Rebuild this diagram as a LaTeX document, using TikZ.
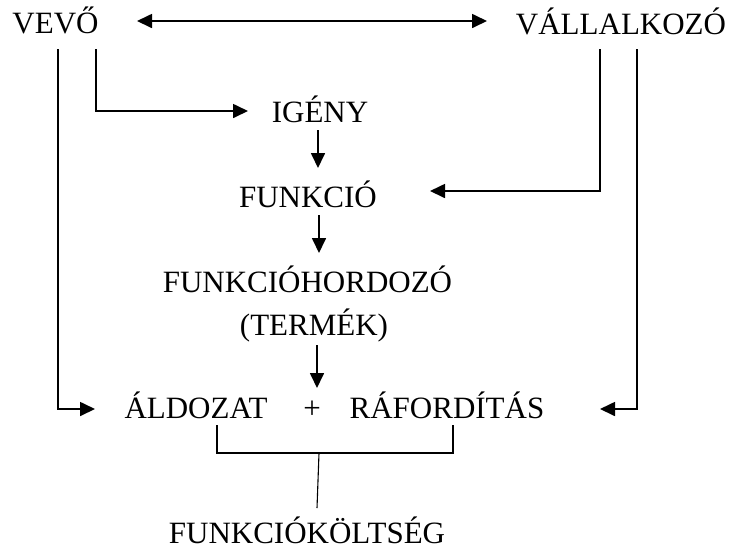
\documentclass[tikz,border=0pt]{standalone}
\usepackage{fontspec}
\setmainfont{Liberation Serif}
\usetikzlibrary{arrows.meta}

\tikzset{
    word/.style={anchor=base, inner sep=0pt, font=\fontsize{31}{43}\selectfont},
    conn/.style={line width=1.7pt},
    >={Triangle[length=15pt,width=14pt]},
}

\begin{document}
\begin{tikzpicture}[x=1pt, y=-1pt]
            \useasboundingbox (0, 0) rectangle (735, 550);

            \node[word] (vevo) at (55.5, 33) {VEVŐ};
            \node[word] (vallalkozo) at (621, 34) {VÁLLALKOZÓ};
            \node[word] (igeny) at (320, 122) {IGÉNY};
            \node[word] (funkcio) at (308, 207) {FUNKCIÓ};
            \node[word] (hordozo) at (307.5, 292) {FUNKCIÓHORDOZÓ};
            \node[word] (termek) at (314, 335) {(TERMÉK)};
            \node[word] (aldozat) at (196, 418) {ÁLDOZAT};
            \node[word] (plusz) at (312, 418) {+};
            \node[word] (raforditas) at (447, 418) {RÁFORDÍTÁS};
            \node[word] (koltseg) at (307, 543) {FUNKCIÓKÖLTSÉG};

%            line ends
            \coordinate (top-l) at (137, 21);
            \coordinate (top-r) at (487, 21);
            \coordinate (vevo-a) at (58, 49);
            \coordinate (vevo-b) at (96, 49);
            \coordinate (igeny-in) at (248, 111);
            \coordinate (aldozat-in) at (95, 409);
            \coordinate (vall-a) at (600, 49);
            \coordinate (vall-b) at (637, 49);
            \coordinate (funkcio-in) at (430, 191);
            \coordinate (rafor-in) at (600, 409);
            \coordinate (igeny-out) at (318, 130);
            \coordinate (funkcio-top) at (318, 168);
            \coordinate (funkcio-out) at (319, 215);
            \coordinate (hordozo-top) at (319, 253);
            \coordinate (termek-out) at (317, 345);
            \coordinate (aldozat-top) at (317, 388);
            \coordinate (br-l) at (217, 425);
            \coordinate (br-r) at (453, 425);
            \coordinate (br-mid) at (319, 453);
            \coordinate (koltseg-top) at (317, 508);

            \draw[conn, <->] (top-l) -- (top-r);
            \draw[conn, ->] (vevo-b) |- (igeny-in);
            \draw[conn, ->] (vevo-a) |- (aldozat-in);
            \draw[conn, ->] (vall-a) |- (funkcio-in);
            \draw[conn, ->] (vall-b) |- (rafor-in);

            \draw[conn, ->] (igeny-out) -- (funkcio-top);
            \draw[conn, ->] (funkcio-out) -- (hordozo-top);
            \draw[conn, ->] (termek-out) -- (aldozat-top);

            \draw[line width=1.5pt] (br-l) |- (br-mid) -| (br-r);
            \draw[line width=1.1pt] (br-mid) -- (koltseg-top);
        \end{tikzpicture}
\end{document}
